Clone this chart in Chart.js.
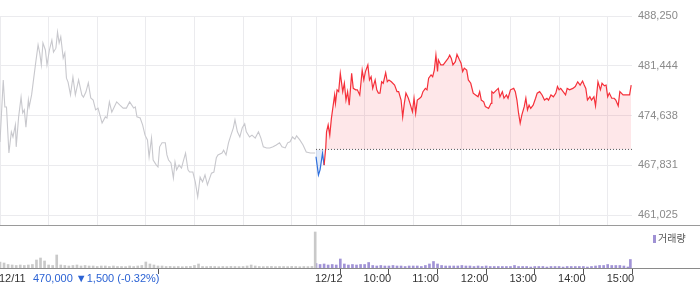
<!DOCTYPE html>
<html>
<head>
<meta charset="utf-8">
<script src="https://cdn.jsdelivr.net/npm/chart.js@4.4.1/dist/chart.umd.min.js"></script>
<style>
  body { margin: 0; background: #fff; }
  #wrap { position: relative; width: 700px; height: 289px; overflow: hidden; font-family: 'Liberation Sans', 'Noto Sans CJK KR', sans-serif; }
  #priceChart { position: absolute; left: 0; top: 0; }
  #volChart { position: absolute; left: 0; top: 226px; }
  .rule { position: absolute; left: 0; width: 700px; height: 1px; }
  #info { position: absolute; left: 33px; top: 272px; font-size: 11px; line-height: 13px; color: #2c63d4; white-space: nowrap; }
  #legend { position: absolute; left: 653px; top: 231px; font-size: 10px; line-height: 13px; color: #555; white-space: nowrap; font-family: 'Noto Sans CJK KR', sans-serif; }
  #legend i { display: inline-block; width: 3px; height: 8px; background: #9f91d4; margin-right: 2px; vertical-align: -1px; }
</style>
</head>
<body>
<div id="wrap">
  <canvas id="priceChart" width="700" height="226"></canvas>
  <div class="rule" style="top:225px;background:#9a9a9a"></div>
  <canvas id="volChart" width="700" height="63"></canvas>
  <div class="rule" style="top:268px;background:#8a8a8a"></div>
  <div id="info">470,000 ▼1,500 (-0.32%)</div>
  <div id="legend"><i></i>거래량</div>
</div>
<script>
// minutes since 09:00 on each day
const prevTimes = [0,4,6,8,11,14,16,19,20,23,26,28,30,32,35,36,39,41,44,47,
  49,51,53,56,58,61,64,66,69,71,73,75,78,80,82,84,87,90,93,97,
  101,103,106,109,112,115,118,121,126,130,132,135,138,141,144,148,152,156,160,165,
  167,169,173,176,179,182,184,187,189,193,195,197,200,204,206,208,211,214,216,218,
  221,224,226,229,232,234,238,241,244,247,250,253,256,258,261,264,267,269,274,276,
  279,282,285,288,290,293,296,299,302,304,308,311,315,319,322,325,329,333,337,341,
  345,348,352,355,358,361,364,366,370,374,378,383,389];
const prevPrices = [471000,479500,475800,475800,469500,472400,471700,473350,470350,474450,
  477150,475000,475400,473050,476750,475800,477450,479200,481800,484300,
  483200,481550,484550,483600,481550,483600,484950,483300,483850,486050,
  484550,485400,482500,483200,479750,479200,477450,479900,477450,479500,
  477450,477150,477850,479100,477050,476750,475400,475650,473600,474450,
  474300,476500,475100,475800,476500,476050,475650,475650,476500,475650,
  475800,474450,474300,473350,471950,471300,468950,471550,468550,467850,
  467600,470350,470900,470900,469250,468550,468150,466100,468300,467200,
  467850,467450,468300,469500,467200,466900,466900,465550,463500,466200,
  465550,466500,465150,465800,466750,466900,468850,469250,469500,469900,
  469250,470900,471950,472950,474050,472400,471700,472950,473500,472400,
  471700,471950,471550,472400,471550,470350,470200,470200,470350,470600,
  470900,470350,470200,470900,471050,471700,471400,471850,471300,470600,
  469650,469500,469500];

const todayTimes = [0,3,5,8,10,12,13,15,17,19,21,23,24,26,28,30,33,35,37,39,
  41,44,46,49,51,54,57,59,61,64,66,68,70,73,75,77,79,81,83,86,
  88,90,93,97,100,102,105,107,109,111,114,116,119,121,123,125,128,130,132,135,
  137,139,142,144,146,148,150,151,154,157,160,163,165,167,169,172,174,177,179,181,
  183,186,188,191,194,197,200,202,204,207,209,213,216,217,219,223,225,227,230,232,
  235,237,240,244,246,248,250,252,254,257,259,261,263,265,268,271,273,276,279,282,
  285,287,290,293,296,298,300,302,305,308,310,313,317,320,323,326,329,331,333,335,
  338,340,343,345,348,351,353,356,358,360,362,365,368,370,373,375,379,384,387,389];
const todayPrices = [469000,466500,467200,469450,467850,470150,472400,473350,471950,474250,
  475850,477450,476300,478150,477900,480400,477900,479050,476750,477900,
  476050,480400,478350,478150,478150,477450,480850,479500,480650,481550,
  479500,479950,478350,479500,478150,477700,477700,479250,479050,480500,
  479250,479500,479250,478800,477900,477900,476750,474450,476300,477700,
  477000,476300,475150,477000,474950,476750,477000,477200,477900,478350,
  478150,479750,480200,479950,480850,482900,480650,482250,481550,481550,
  482000,482450,482900,482450,481550,482000,483000,482250,481800,480650,
  481100,480850,479500,479050,477700,477450,477200,477900,476750,476500,
  475850,475600,476300,477900,477700,478150,478350,477200,477900,477000,
  477450,477000,478150,478350,477900,476750,474950,473600,474700,475850,
  477000,475400,476050,475600,476050,477000,477700,477900,477450,476750,
  477000,476750,477450,477200,477700,478600,478150,478350,477900,477450,
  478350,478150,478350,478600,479250,478800,479350,478800,478350,476750,
  477200,476750,477200,475950,479250,478150,479050,478700,478800,477200,
  477700,477000,477000,476750,475950,477900,477450,477450,477450,478800];

const prevClose = 470000;

// volume per 5-minute bucket (shares), last entry = closing auction
const volTimesPrev = [0,5,10,15,20,25,30,35,40,45,50,55,60,65,70,75,80,85,90,95,
  100,105,110,115,120,125,130,135,140,145,150,155,160,165,170,175,180,185,190,195,
  200,205,210,215,220,225,230,235,240,245,250,255,260,265,270,275,280,285,290,295,
  300,305,310,315,320,325,330,335,340,345,350,355,360,365,370,375,380,385,389];
const volPrev = [600,500,350,300,250,300,250,300,350,800,
  1000,700,300,250,1300,300,250,200,250,300,
  200,250,200,200,150,200,200,150,200,150,
  150,140,200,150,200,250,600,400,300,200,
  200,150,160,140,150,130,150,160,250,400,
  150,140,160,150,130,150,140,160,150,140,
  150,200,300,200,150,140,150,160,140,150,
  150,140,160,150,130,150,140,160,3600];

const volTimesToday = [0,5,10,15,20,25,30,35,40,45,50,55,60,65,70,75,80,85,90,95,
  100,105,110,115,120,125,130,135,140,145,150,155,160,165,170,175,180,185,190,195,
  200,205,210,215,220,225,230,235,240,245,250,255,260,265,270,275,280,285,290,295,
  300,305,310,315,320,325,330,335,340,345,350,355,360,365,370,375,380,385,388];
const volToday = [450,350,400,300,350,300,900,400,300,350,
  300,350,350,550,250,200,250,200,200,250,
  200,200,150,200,200,200,150,250,400,650,
  400,250,200,200,200,200,250,200,200,150,
  200,150,200,150,150,150,150,150,150,250,
  150,150,150,100,150,150,150,100,150,150,
  150,100,150,150,150,150,150,100,150,200,
  250,250,350,250,250,250,200,100,850];

const yTicks = [461025, 467831, 474638, 481444, 488250];
const gridTimes = [0,60,120,180,240,300,360,390,450,510,570,630,690,750];
const axisTimes = [0,390,450,510,570,630,690,750];
const axisLabels = ['12/11','12/12','10:00','11:00','12:00','13:00','14:00','15:00'];

const dayLen = 390;
const RED = '#f5303a', BLUE = '#2f6fdc';

Chart.defaults.font.family = "'Liberation Sans', 'Noto Sans CJK KR', sans-serif";
Chart.defaults.font.size = 11;

const pts = (ts, vs, off) => ts.map((t, i) => ({ x: t + off, y: vs[i] }));
const noPad = s => { s.paddingLeft = 0; s.paddingRight = 0; s.paddingTop = 0; s.paddingBottom = 0; };

new Chart(document.getElementById('priceChart'), {
  type: 'line',
  data: {
    datasets: [
      {
        data: [{ x: dayLen, y: prevClose }, { x: dayLen * 2, y: prevClose }],
        borderColor: '#555',
        borderWidth: 1,
        borderDash: [1, 2],
        pointRadius: 0,
        fill: false
      },
      {
        data: pts(todayTimes, todayPrices, dayLen),
        borderColor: RED,
        borderWidth: 1.2,
        pointRadius: 0,
        segment: {
          borderColor: c => (c.p0.parsed.y < prevClose && c.p1.parsed.y < prevClose) ? BLUE : RED
        },
        fill: { target: { value: prevClose }, above: 'rgba(245,60,75,0.12)', below: 'rgba(60,120,220,0.14)' }
      },
      {
        data: pts(prevTimes, prevPrices, 0),
        borderColor: '#c8c8cd',
        borderWidth: 1.1,
        pointRadius: 0,
        fill: false
      }
    ]
  },
  options: {
    responsive: false,
    animation: false,
    layout: { padding: { top: 16, bottom: 1, left: 0, right: 0 } },
    plugins: { legend: { display: false }, tooltip: { enabled: false } },
    scales: {
      x: {
        type: 'linear',
        min: 0,
        max: dayLen * 2,
        afterBuildTicks: s => { s.ticks = gridTimes.map(v => ({ value: v })); },
        afterFit: s => { s.height = 0; noPad(s); },
        ticks: { display: false },
        grid: { color: '#ebebee', drawTicks: false },
        border: { display: false }
      },
      y: {
        position: 'right',
        min: 459657,
        max: 488250,
        afterBuildTicks: s => { s.ticks = yTicks.map(v => ({ value: v })); },
        afterFit: s => { s.width = 68; noPad(s); },
        ticks: { padding: 6, color: '#8a8a8a', callback: v => v.toLocaleString('en-US') },
        grid: { color: '#ebebee', drawTicks: false },
        border: { display: false }
      }
    }
  }
});

new Chart(document.getElementById('volChart'), {
  type: 'bar',
  data: {
    datasets: [
      {
        data: pts(volTimesPrev, volPrev, 0),
        backgroundColor: '#c9c9c9',
        barThickness: 2,
        grouped: false
      },
      {
        data: pts(volTimesToday, volToday, dayLen),
        backgroundColor: '#a193d6',
        barThickness: 2,
        grouped: false
      }
    ]
  },
  options: {
    responsive: false,
    animation: false,
    layout: { padding: { top: 2, right: 68, left: 0, bottom: 0 } },
    plugins: { legend: { display: false }, tooltip: { enabled: false } },
    scales: {
      x: {
        type: 'linear',
        offset: false,
        min: 0,
        max: dayLen * 2,
        afterBuildTicks: s => { s.ticks = axisTimes.map(v => ({ value: v })); },
        afterFit: s => { s.height = 21; noPad(s); },
        ticks: {
          align: 'start',
          maxRotation: 0,
          autoSkip: false,
          padding: -2,
          labelOffset: -1,
          color: '#333',
          callback: (v, i) => axisLabels[i]
        },
        grid: { drawOnChartArea: false, tickLength: 6, color: '#555' },
        border: { display: false }
      },
      y: {
        display: false,
        min: 0,
        max: 4000
      }
    }
  }
});
</script>
</body>
</html>
